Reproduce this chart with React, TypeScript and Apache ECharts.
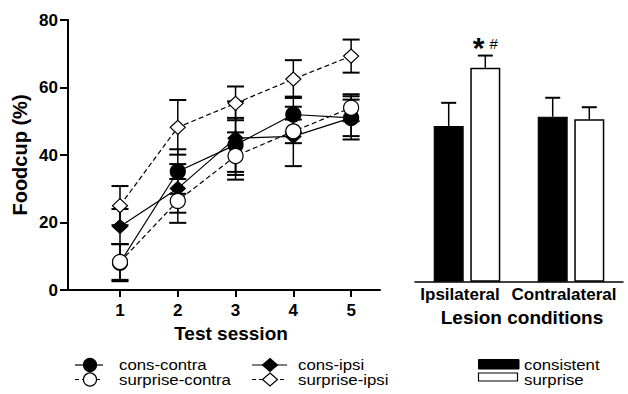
import React, { useEffect, useRef } from "react";
import * as echarts from "echarts";

// ---- data ----
const sessions = [1, 2, 3, 4, 5];
const consContra = [8.1, 35.1, 43, 52, 51];
const consContraErr = [5.5, 6.6, 8, 5.3, 5.4];
const consIpsi = [18.8, 30.1, 45, 45.5, 51];
const consIpsiErr = [5.2, 7.2, 10.9, 8.8, 6.4];
const surpriseContra = [8.3, 26.4, 39.7, 47, 54];
const surpriseContraErr = [5.3, 6.5, 7, 3.5, 4];
const surpriseIpsi = [25, 48.2, 55.3, 62.5, 69.3];
const surpriseIpsiErr = [5.8, 8.1, 5, 5.6, 4.9];

const yTicks = [0, 20, 40, 60, 80];
const lineNames = ["cons-contra", "cons-ipsi", "surprise-contra", "surprise-ipsi"];

const lesionCategories = ["Ipsilateral", "Contralateral"];
const barNames = ["consistent", "surprise"];
const consistentBars = [46.1, 48.9];
const consistentBarErr = [6.9, 5.6];
const surpriseBars = [63.4, 48.1];
const surpriseBarErr = [3.6, 3.6];
const annotation = { star: "*", hash: "#" };

const FONT = "'Liberation Sans', Arial, Helvetica, sans-serif";

function errData(means: number[], errs: number[]) {
  return sessions.map((s, i) => [s, means[i] - errs[i], means[i] + errs[i]]);
}

function lineErrRender(params: any, api: any) {
  const x = api.value(0);
  const lo = api.coord([x, api.value(1)]);
  const hi = api.coord([x, api.value(2)]);
  const hw = 8.5;
  return {
    type: "group",
    children: [
      { type: "line", shape: { x1: lo[0], y1: lo[1], x2: hi[0], y2: hi[1] }, style: { stroke: "#000", lineWidth: 1.5 } },
      { type: "line", shape: { x1: lo[0] - hw, y1: lo[1], x2: lo[0] + hw, y2: lo[1] }, style: { stroke: "#000", lineWidth: 2 } },
      { type: "line", shape: { x1: hi[0] - hw, y1: hi[1], x2: hi[0] + hw, y2: hi[1] }, style: { stroke: "#000", lineWidth: 2 } },
    ],
  };
}

function barErrRender(offset: number) {
  return (params: any, api: any) => {
    const idx = api.value(0);
    const top = api.coord([idx, api.value(1)]);
    const hi = api.coord([idx, api.value(2)]);
    const x = top[0] + offset;
    const hw = 7.5;
    return {
      type: "group",
      children: [
        { type: "line", shape: { x1: x, y1: top[1], x2: x, y2: hi[1] }, style: { stroke: "#000", lineWidth: 1.5 } },
        { type: "line", shape: { x1: x - hw, y1: hi[1], x2: x + hw, y2: hi[1] }, style: { stroke: "#000", lineWidth: 2 } },
      ],
    };
  };
}

function lineSeries(name: string, values: number[], filled: boolean, symbol: string, dashed: boolean, z: number) {
  return {
    type: "line",
    name,
    xAxisIndex: 0,
    yAxisIndex: 0,
    data: sessions.map((s, i) => [s, values[i]]),
    symbol,
    symbolSize: symbol === "circle" ? 15 : [15, 14],
    z,
    lineStyle: { color: "#000", width: 1.2, type: dashed ? [5, 3] : "solid" },
    itemStyle: { color: filled ? "#000" : "#fff", borderColor: "#000", borderWidth: 1.2, opacity: 1 },
    emphasis: { disabled: true },
  };
}

function errSeries(values: number[], errs: number[]) {
  return {
    type: "custom",
    xAxisIndex: 0,
    yAxisIndex: 0,
    data: errData(values, errs),
    encode: { x: 0, y: [1, 2] },
    renderItem: lineErrRender,
    z: 2,
  };
}

const rowY = [365, 379.5];

function legendLine(x1: number, x2: number, y: number, dashed: boolean) {
  return {
    type: "line",
    shape: { x1, y1: y, x2, y2: y },
    style: { stroke: "#000", lineWidth: 1.2, lineDash: dashed ? [4, 3] : null },
    z: 10,
  };
}
function legendCircle(cx: number, cy: number, filled: boolean) {
  return {
    type: "circle",
    shape: { cx, cy, r: 6.5 },
    style: { fill: filled ? "#000" : "#fff", stroke: "#000", lineWidth: 1.2 },
    z: 11,
  };
}
function legendDiamond(cx: number, cy: number, filled: boolean) {
  return {
    type: "polygon",
    shape: { points: [[cx, cy - 6.5], [cx + 7.5, cy], [cx, cy + 6.5], [cx - 7.5, cy]] },
    style: { fill: filled ? "#000" : "#fff", stroke: "#000", lineWidth: 1.2 },
    z: 11,
  };
}
function legendText(x: number, y: number, text: string) {
  return {
    type: "text",
    x,
    y,
    scaleX: 1.12,
    style: { text, fill: "#000", fontSize: 15, fontFamily: FONT, verticalAlign: "middle", align: "left" },
    z: 11,
  };
}

const option: any = {
  animation: false,
  backgroundColor: "#fff",
  grid: [
    { left: 68, top: 20, width: 312, height: 270 },
    { left: 415, top: 11.7, width: 208, height: 270 },
  ],
  xAxis: [
    {
      type: "value",
      gridIndex: 0,
      min: 0.1,
      max: 5.5,
      axisLine: { show: true, lineStyle: { color: "#000", width: 2 } },
      axisTick: { show: true, length: 7, customValues: sessions, lineStyle: { color: "#000", width: 2 } },
      axisLabel: { customValues: sessions, color: "#000", fontSize: 17, fontWeight: "bold", fontFamily: FONT, margin: 12 },
      splitLine: { show: false },
      name: "Test session",
      nameLocation: "middle",
      nameGap: 34,
      nameTextStyle: { color: "#000", fontSize: 19, fontWeight: "bold", fontFamily: FONT, padding: [0, 0, 0, 14] },
    },
    {
      type: "category",
      gridIndex: 1,
      data: lesionCategories,
      axisLine: { show: true, lineStyle: { color: "#000", width: 1.5 } },
      axisTick: { show: false },
      axisLabel: { color: "#000", fontSize: 17, fontWeight: "bold", fontFamily: FONT, margin: 4, padding: [0, 14, 0, 0], interval: 0 },
      name: "Lesion conditions",
      nameLocation: "middle",
      nameGap: 25,
      nameTextStyle: { color: "#000", fontSize: 19, fontWeight: "bold", fontFamily: FONT, padding: [0, 0, 0, 6] },
    },
  ],
  yAxis: [
    {
      type: "value",
      gridIndex: 0,
      min: yTicks[0],
      max: yTicks[yTicks.length - 1],
      interval: 20,
      axisLine: { show: true, lineStyle: { color: "#000", width: 2 } },
      axisTick: { show: true, length: 8, lineStyle: { color: "#000", width: 2 } },
      axisLabel: { color: "#000", fontSize: 17, fontWeight: "bold", fontFamily: FONT, margin: 10 },
      splitLine: { show: false },
      name: "Foodcup (%)",
      nameLocation: "middle",
      nameGap: 38,
      nameRotate: 90,
      nameTextStyle: { color: "#000", fontSize: 20, fontWeight: "bold", fontFamily: FONT },
    },
    { type: "value", gridIndex: 1, min: 0, max: 80, show: false },
  ],
  series: [
    errSeries(consIpsi, consIpsiErr),
    errSeries(consContra, consContraErr),
    errSeries(surpriseContra, surpriseContraErr),
    errSeries(surpriseIpsi, surpriseIpsiErr),
    lineSeries(lineNames[1], consIpsi, true, "diamond", false, 3),
    lineSeries(lineNames[0], consContra, true, "circle", false, 4),
    lineSeries(lineNames[2], surpriseContra, false, "circle", true, 5),
    lineSeries(lineNames[3], surpriseIpsi, false, "diamond", true, 6),
    {
      type: "bar",
      name: barNames[0],
      xAxisIndex: 1,
      yAxisIndex: 1,
      data: consistentBars,
      barWidth: 30,
      barGap: "22%",
      itemStyle: { color: "#000", borderColor: "#000", borderWidth: 1.2 },
      emphasis: { disabled: true },
    },
    {
      type: "bar",
      name: barNames[1],
      xAxisIndex: 1,
      yAxisIndex: 1,
      data: surpriseBars.map((v, i) =>
        i === 0
          ? {
              value: v,
              label: {
                show: true,
                position: "top",
                distance: 5,
                formatter: `{s|${annotation.star}}{h|${annotation.hash}}`,
                rich: {
                  s: { fontSize: 30, fontWeight: "bold", fontFamily: FONT, color: "#000", lineHeight: 30 },
                  h: { fontSize: 15, fontFamily: FONT, color: "#000", padding: [0, 0, 9, 5] },
                },
              },
            }
          : v
      ),
      barWidth: 30,
      barGap: "22%",
      itemStyle: { color: "#fff", borderColor: "#000", borderWidth: 1.5 },
      emphasis: { disabled: true },
    },
    {
      type: "custom",
      xAxisIndex: 1,
      yAxisIndex: 1,
      data: lesionCategories.map((c, i) => [i, consistentBars[i], consistentBars[i] + consistentBarErr[i]]),
      encode: { x: 0, y: [1, 2] },
      renderItem: barErrRender(-18.3),
      z: 3,
    },
    {
      type: "custom",
      xAxisIndex: 1,
      yAxisIndex: 1,
      data: lesionCategories.map((c, i) => [i, surpriseBars[i], surpriseBars[i] + surpriseBarErr[i]]),
      encode: { x: 0, y: [1, 2] },
      renderItem: barErrRender(18.3),
      z: 3,
    },
  ],
  graphic: [
    legendLine(75, 103, rowY[0], false),
    legendCircle(90, rowY[0], true),
    legendText(119, rowY[0], lineNames[0]),
    legendLine(75, 103, rowY[1], true),
    legendCircle(90, rowY[1], false),
    legendText(119, rowY[1], lineNames[2]),
    legendLine(252, 287, rowY[0], false),
    legendDiamond(270, rowY[0], true),
    legendText(298, rowY[0], lineNames[1]),
    legendLine(252, 287, rowY[1], true),
    legendDiamond(270, rowY[1], false),
    legendText(298, rowY[1], lineNames[3]),
    { type: "rect", shape: { x: 478.5, y: 359.5, width: 40.5, height: 9.5 }, style: { fill: "#000", stroke: "#000", lineWidth: 1 }, z: 10 },
    legendText(524, rowY[0], barNames[0]),
    { type: "rect", shape: { x: 478.5, y: 373, width: 39, height: 8 }, style: { fill: "#fff", stroke: "#000", lineWidth: 1.2 }, z: 10 },
    legendText(524, rowY[1], barNames[1]),
  ],
};

export default function App() {
  const ref = useRef<HTMLDivElement>(null);
  useEffect(() => {
    if (!ref.current) return;
    const chart = echarts.init(ref.current, null, { renderer: "svg" });
    chart.setOption(option);
    return () => chart.dispose();
  }, []);
  return (
    <div
      ref={ref}
      style={{ position: "fixed", left: 0, top: 0, width: 628, height: 394, background: "#fff" }}
    />
  );
}
